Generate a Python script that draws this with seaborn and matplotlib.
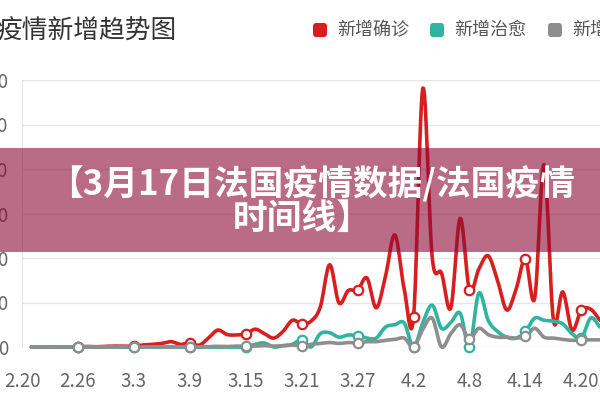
import numpy as np
import pandas as pd
import seaborn as sns
import matplotlib.pyplot as plt
from matplotlib.patches import FancyBboxPatch, Rectangle

# dates 2.20 -> 4.22 (2020), one category per day
dates = [f"{d.month}.{d.day}" for d in pd.date_range("2020-02-20", "2020-04-22")]

nan = np.nan
# new confirmed cases
confirmed = [nan, 0, 0, 0, 0, 0, 2, 12, 5, 15,
             20, 15, 20, 45, 60, 80, 120, 60, 90, 40,
             200, 380, 280, 270, 290, 400, 300, 200, 350, 600,
             520, 580, 900, 1850, 990, 1270, 1280, 1550, 880, 1600,
             2520, 1300, 670, 5820, 2020, 1660, 880, 2890, 1280, 1750,
             2050, 1500, 830, 1300, 1980, 1100, 4100, 610, 1240, 380,
             830, 850, 600]
# new recovered
recovered = [nan, 0, 0, 0, 0, 0, 0, 0, 0, 0,
             0, 0, 0, 0, 0, 0, 0, 0, 0, 0,
             0, 0, 0, 0, 0, 60, 90, 0, 30, 60,
             160, 0, 300, 320, 220, 270, 250, 200, 200, 450,
             500, 540, 0, 550, 940, 420, 550, 760, 0, 1210,
             600, 350, 220, 200, 350, 650, 600, 580, 520, 300,
             200, 650, 450]
# new deaths
deaths = [nan, 0, 0, 0, 0, 0, 0, 0, 0, 0,
          0, 0, 0, 0, 0, 0, 0, 0, 0, 0,
          10, 15, 10, 20, 15, 20, 30, 20, 30, 40,
          30, 60, 80, 100, 80, 100, 90, 120, 120, 150,
          170, 200, 0, 400, 650, 0, 300, 500, 180, 420,
          280, 220, 220, 200, 240, 420, 220, 200, 170, 150,
          160, 160, 160]

series_names = ["新增确诊", "新增治愈", "新增死亡"]
colors = ["#d81e1e", "#2fb59f", "#8e8e8e"]
y_ticks = [0, 1000, 2000, 3000, 4000, 5000, 6000]


def smooth(ys, n=12):
    # cubic hermite (catmull-rom tangents) just for drawing the curve
    ys = np.asarray(ys, float)
    idx = np.where(~np.isnan(ys))[0]
    x, y = idx.astype(float), ys[idx]
    m = np.gradient(y)
    xs, out = [], []
    for k in range(len(x) - 1):
        t = np.linspace(0, 1, n, endpoint=False)
        h00 = 2*t**3 - 3*t**2 + 1
        h10 = t**3 - 2*t**2 + t
        h01 = -2*t**3 + 3*t**2
        h11 = t**3 - t**2
        xs.append(x[k] + t)
        out.append(h00*y[k] + h10*m[k] + h01*y[k+1] + h11*m[k+1])
    xs.append([x[-1]])
    out.append([y[-1]])
    return np.concatenate(xs), np.concatenate(out)


sns.set_style("white")
plt.rcParams['font.family'] = ['Noto Sans CJK SC', 'DejaVu Sans']

fig = plt.figure(figsize=(6, 4), dpi=100)
ax = fig.add_axes([22/600, 1-347/400, 578/600, 267/400])

marker_idx = list(range(6, len(dates), 6))
for vals, col in zip([confirmed, recovered, deaths], colors):
    sx, sy = smooth(vals)
    sns.lineplot(x=sx, y=sy, ax=ax, color=col, lw=2.6, sort=False,
                 estimator=None, clip_on=False)
    sns.scatterplot(x=marker_idx, y=[vals[i] for i in marker_idx], ax=ax,
                    color="white", edgecolor=col, linewidth=1.6, s=46,
                    clip_on=False, zorder=5)

ax.set_xlim(0, len(dates) - 1)
ax.set_ylim(0, 6000)
ax.set_xticks(list(range(0, len(dates), 6)))
ax.set_xticklabels(dates[::6], fontsize=13.5, color="#666666")
ax.set_yticks(y_ticks)
ax.set_yticklabels([str(v) for v in y_ticks], fontsize=13.5, color="#666666")
ax.tick_params(axis="x", length=0, pad=17)
ax.tick_params(axis="y", length=0, pad=10)
ax.yaxis.grid(True, color="#e6e6e6", lw=1)
ax.xaxis.grid(False)
for s in ["top", "right", "bottom"]:
    ax.spines[s].set_visible(False)
ax.spines["left"].set_color("#e6e6e6")

# overlay in pixel coordinates for title, legend and banner
ov = fig.add_axes([0, 0, 1, 1])
ov.set_xlim(0, 600)
ov.set_ylim(400, 0)
ov.axis("off")

ov.text(-4, 32, "疫情新增趋势图", fontsize=18.5, color="#333333", va="center", ha="left")
for cx, name, col in zip([320, 437, 555], series_names, colors):
    ov.add_patch(FancyBboxPatch((cx - 7, 23), 14, 14, boxstyle="round,pad=0,rounding_size=3",
                                color=col, lw=0))
    ov.text(cx + 17, 30, name, fontsize=13, color="#555555", va="center", ha="left")

ov.add_patch(Rectangle((0, 148), 600, 104, color="#8c0a36", alpha=0.6, lw=0, zorder=10))
ov.text(312, 184, "【3月17日法国疫情数据/法国疫情", fontsize=25, fontweight="bold",
        color="white", ha="center", va="center", zorder=11)
ov.text(302, 218, "时间线】", fontsize=25, fontweight="bold",
        color="white", ha="center", va="center", zorder=11)

fig.savefig("out.png", dpi=100)
